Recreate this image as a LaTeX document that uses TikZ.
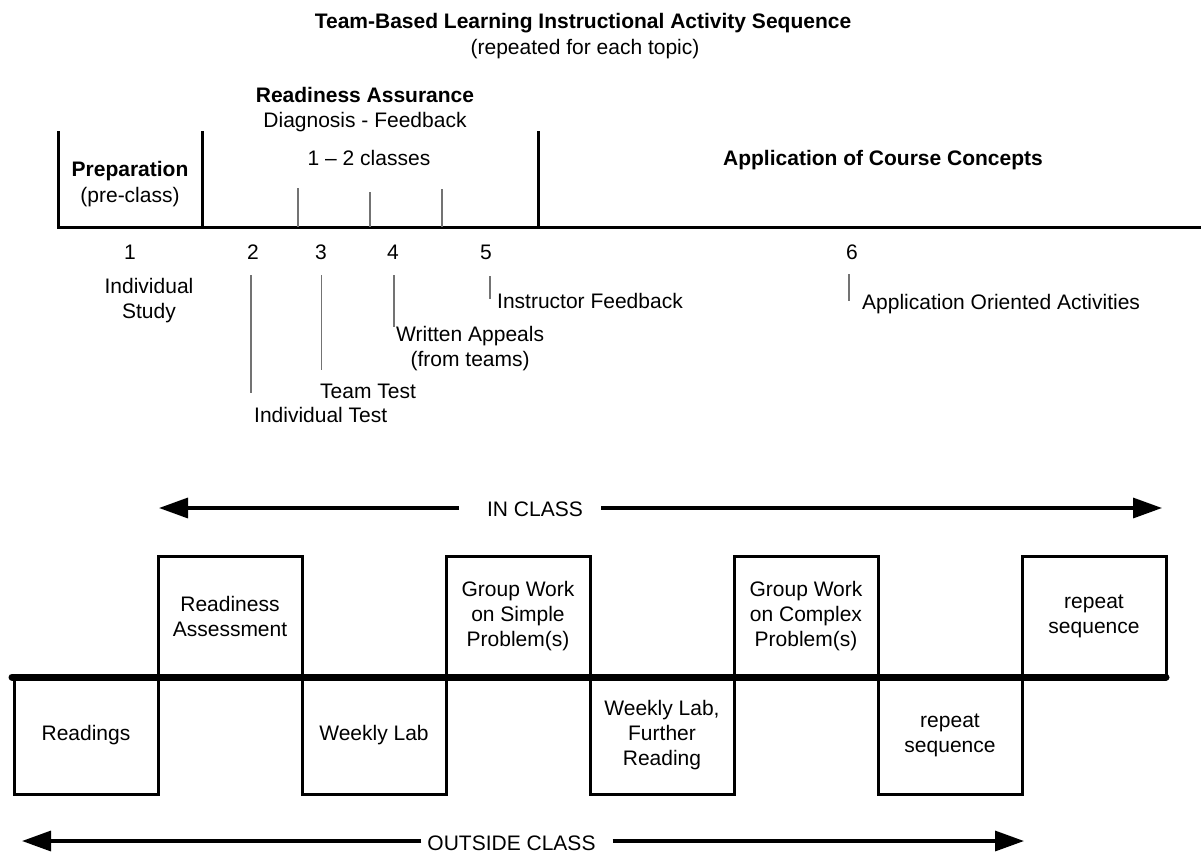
\documentclass[tikz,border=0pt]{standalone}
\usepackage{fontspec}
\setmainfont{Liberation Sans}
\usetikzlibrary{arrows.meta}
\begin{document}
\begin{tikzpicture}[x=1pt, y=-1pt,
  every node/.style={font=\fontsize{21}{25}\selectfont},
  txt/.style={inner sep=0pt, text height=15pt, text depth=0pt},
  mtxt/.style={inner sep=0pt, align=center},
  hd/.style={font=\fontsize{21}{25}\selectfont\bfseries},
  frame/.style={line width=3pt},
  leader/.style={line width=1.2pt, draw=black!55},
  stepbox/.style={draw, line width=3pt, minimum width=144pt, align=center, inner sep=0pt},
  upbox/.style={stepbox, minimum height=121pt},
  lowbox/.style={stepbox, minimum height=117pt},
  spine/.style={line width=7pt, line cap=round},
  span/.style={line width=3.3pt, -{Triangle[length=29pt,width=20pt]}}
]
\useasboundingbox (0,0) rectangle (1201,854);

% ---------- heading ----------
\node[txt, hd] (title) at (583,21) {Team-Based Learning Instructional Activity Sequence};
\node[txt] (subtitle) at (585,47) {(repeated for each topic)};

% ---------- phase timeline ----------
\draw[frame] (58,131) -- (58,227) -- (1201,227);
\draw[frame] (202,131) -- (202,227);
\draw[frame] (538,131) -- (538,227);
\draw[leader] (298,188) -- (298,227);
\draw[leader] (370,192) -- (370,227);
\draw[leader] (442,189) -- (442,227);

\node[txt, hd] (prep) at (130,169) {Preparation};
\node[txt] (preclass) at (130,195) {(pre-class)};
\node[txt, hd] (ra) at (365,95) {Readiness Assurance};
\node[txt] (diag) at (365,120) {Diagnosis - Feedback};
\node[txt] (classes) at (369,158) {1 – 2 classes};
\node[txt, hd] (appl) at (883,158) {Application of Course Concepts};

% step numbers
\node[txt] (n1) at (130,252) {1};
\node[txt] (n2) at (253,252) {2};
\node[txt] (n3) at (321,252) {3};
\node[txt] (n4) at (393,252) {4};
\node[txt] (n5) at (486,252) {5};
\node[txt] (n6) at (852,252) {6};

% step descriptions
\node[mtxt] (study) at (149,301) {Individual\\Study};
\node[txt, anchor=west] (itest) at (254,415) {Individual Test};
\node[txt, anchor=west] (ttest) at (320,391) {Team Test};
\node[mtxt, anchor=west] (appeal) at (396,349) {Written Appeals\\(from teams)};
\node[txt, anchor=west] (ifb) at (497,301) {Instructor Feedback};
\node[txt, anchor=west] (aoa) at (862,302) {Application Oriented Activities};

\draw[leader] (251,275) -- (251,393);
\draw[leader] (321.5,275) -- (321.5,370);
\draw[leader] (394,275) -- (394,327);
\draw[leader] (490,276) -- (490,299);
\draw[leader] (849,274) -- (849,301);

% ---------- in class / outside class sequence ----------
\coordinate (icL) at (159,508);
\coordinate (icR) at (1162,508);
\node[txt] (incls) at (535,509) {IN CLASS};
\draw[span, shorten <=28pt] (incls.west |- icL) -- (icL);
\draw[span, shorten <=18pt] (incls.east |- icR) -- (icR);

\node[lowbox] (readings) at (86,735.5) {Readings};
\node[upbox]  (rdyassess) at (230,616.5) {Readiness\\Assessment};
\node[lowbox] (lab) at (374,735.5) {Weekly Lab};
\node[upbox]  (simple) at (518,616.5) {Group Work\\on Simple\\Problem(s)};
\node[lowbox] (labread) at (662,735.5) {Weekly Lab,\\Further\\Reading};
\node[upbox]  (complex) at (806,616.5) {Group Work\\on Complex\\Problem(s)};
\node[lowbox] (replow) at (950,735.5) {repeat\\sequence};
\node[upbox]  (repup) at (1094,616.5) {repeat\\sequence};

\draw[spine] (12,677) -- (1166,677);

\coordinate (ocL) at (22,841);
\coordinate (ocR) at (1024,841);
\node[txt] (outcls) at (511.5,843) {OUTSIDE CLASS};
\draw[span, shorten <=6pt] (outcls.west |- ocL) -- (ocL);
\draw[span, shorten <=17pt] (outcls.east |- ocR) -- (ocR);
\end{tikzpicture}
\end{document}
